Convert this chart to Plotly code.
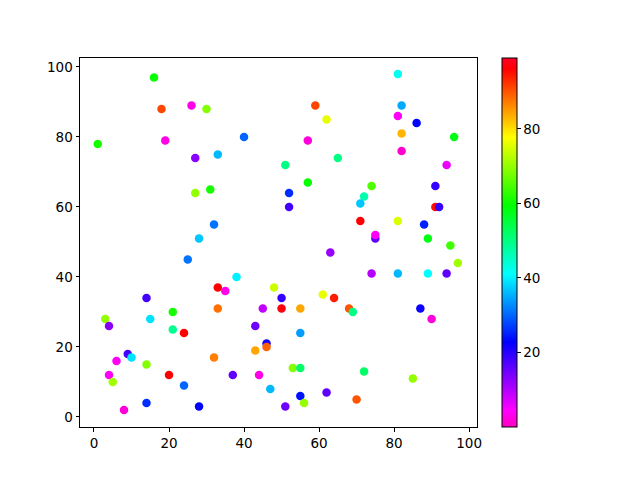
import plotly.graph_objects as go

x_vals = [16, 18, 26, 30, 1, 19, 27, 59, 62, 40,
          57, 33, 51, 65, 57, 81, 82, 81, 86, 82,
          96, 82, 94, 74, 91, 27, 31, 32, 28, 25,
          14, 52, 52, 63, 38, 33, 35, 48, 50, 61,
          64, 72, 71, 91, 92, 71, 81, 88, 75, 75,
          89, 95, 97, 74, 81, 89, 94, 21, 3, 4,
          15, 21, 24, 9, 10, 6, 14, 4, 5, 20,
          24, 14, 8, 28, 33, 32, 45, 50, 55, 43,
          55, 46, 46, 43, 53, 55, 37, 44, 47, 55,
          56, 51, 62, 68, 69, 87, 90, 72, 85, 70]
y_vals = [97, 88, 89, 88, 78, 79, 74, 89, 85, 80,
          79, 75, 72, 74, 67, 98, 89, 86, 84, 81,
          80, 76, 72, 66, 66, 64, 65, 55, 51, 45,
          34, 64, 60, 47, 40, 37, 36, 37, 34, 35,
          34, 63, 61, 60, 60, 56, 56, 55, 51, 52,
          51, 49, 44, 41, 41, 41, 41, 30, 28, 26,
          28, 25, 24, 18, 17, 16, 15, 12, 10, 12,
          9, 4, 2, 3, 31, 17, 31, 31, 31, 26,
          24, 21, 20, 19, 14, 14, 12, 12, 8, 6,
          4, 3, 7, 31, 30, 31, 28, 13, 11, 5]
c_vals = [60, 91, 3, 69, 61, 3, 13, 91, 76, 30,
          2, 36, 50, 50, 60, 42, 35, 4, 23, 83,
          58, 1, 6, 65, 19, 70, 61, 31, 37, 31,
          18, 26, 18, 12, 40, 96, 3, 74, 19, 76,
          94, 47, 37, 95, 19, 96, 75, 25, 16, 4,
          58, 64, 71, 10, 36, 41, 16, 61, 70, 13,
          39, 49, 96, 18, 39, 4, 69, 4, 71, 96,
          30, 26, 2, 23, 88, 87, 9, 97, 84, 15,
          34, 21, 89, 84, 69, 52, 16, 3, 36, 24,
          70, 15, 16, 90, 50, 22, 2, 52, 70, 90]

x_ticks = [0, 20, 40, 60, 80, 100]
y_ticks = [0, 20, 40, 60, 80, 100]
cbar_ticks = [20, 40, 60, 80]

gist_rainbow_r = [
    [0.000, "rgb(255,0,191)"],
    [0.046, "rgb(255,0,255)"],
    [0.230, "rgb(0,0,255)"],
    [0.414, "rgb(0,255,255)"],
    [0.600, "rgb(0,255,0)"],
    [0.785, "rgb(255,255,0)"],
    [0.970, "rgb(255,0,0)"],
    [1.000, "rgb(255,0,41)"],
]

font = dict(family="DejaVu Sans", size=13.5, color="black")

fig = go.Figure(go.Scatter(
    x=x_vals, y=y_vals, mode="markers",
    marker=dict(
        size=8.5, color=c_vals, colorscale=gist_rainbow_r,
        cmin=0, cmax=99, line=dict(width=0),
        colorbar=dict(
            x=1.063, xanchor="left", xref="paper",
            y=0.5, yanchor="middle", len=1, lenmode="fraction",
            thickness=15, thicknessmode="pixels",
            outlinewidth=1, outlinecolor="black",
            tickvals=cbar_ticks, ticks="outside", ticklen=3.5,
            tickwidth=1, tickcolor="black", tickfont=font,
            xpad=0, ypad=0,
        ),
    ),
    showlegend=False,
))

axis_common = dict(
    showgrid=False, zeroline=False, showline=True, linecolor="black",
    linewidth=1, mirror=True, ticks="outside", ticklen=3.5, tickwidth=1,
    tickcolor="black", tickfont=font,
)
fig.update_xaxes(range=[-3.73, 102.1], tickvals=x_ticks, **axis_common)
fig.update_yaxes(range=[-2.86, 102.57], tickvals=y_ticks, **axis_common)

# page body has an 8px margin, so shrink the figure and left/top margins to compensate
fig.update_layout(
    width=632, height=472,
    margin=dict(l=72, r=163, t=50, b=53),
    paper_bgcolor="white", plot_bgcolor="white",
    font=font,
)

fig.write_html("out.html")
